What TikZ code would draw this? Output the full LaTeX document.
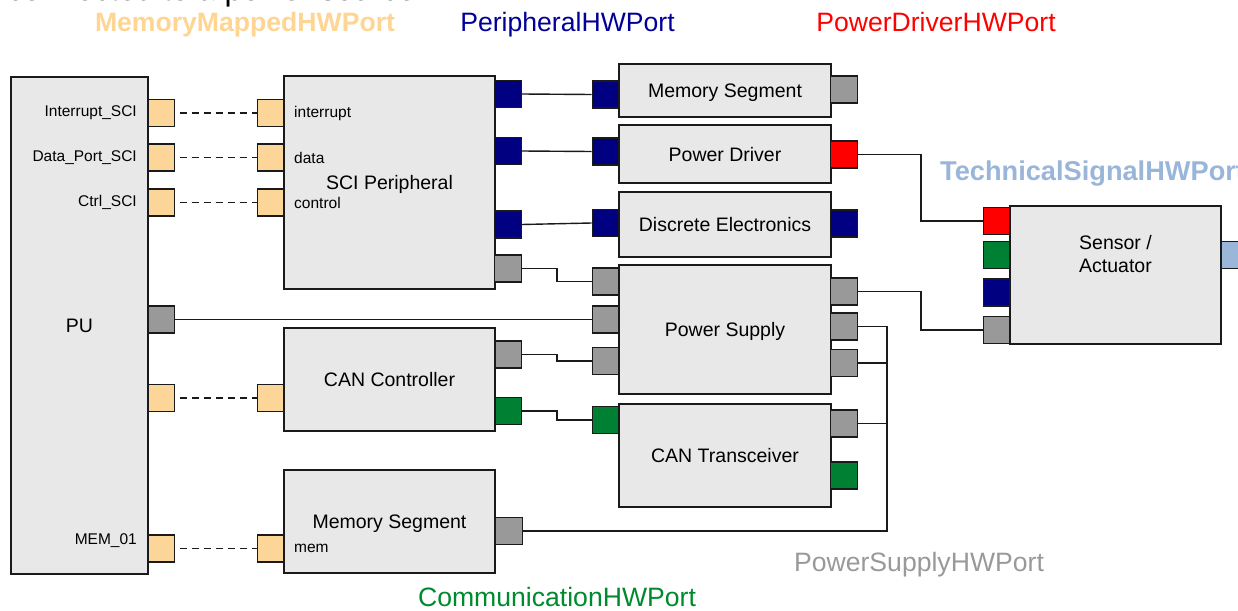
\documentclass[tikz,border=0pt]{standalone}
\usepackage{fontspec}
\setmainfont{Liberation Sans}
\definecolor{boxfill}{HTML}{E8E8E8}
\definecolor{mmport}{HTML}{FCD598}
\definecolor{navyport}{HTML}{000080}
\definecolor{grayport}{HTML}{999999}
\definecolor{redport}{HTML}{FF0000}
\definecolor{greenport}{HTML}{008033}
\definecolor{blueport}{HTML}{9AB6D9}
\definecolor{mmtext}{HTML}{FED592}
\definecolor{pertext}{HTML}{000099}
\definecolor{comtext}{HTML}{008A2E}
\definecolor{pstext}{HTML}{999999}
\definecolor{tstext}{HTML}{99B5D9}
\definecolor{linec}{HTML}{1A1A1A}
\begin{document}
\begin{tikzpicture}[x=1pt,y=-1pt,
  box/.style={draw=linec, line width=1.5pt, fill=boxfill, inner sep=0pt, align=center, text height=14pt, text depth=0pt, font=\fontsize{19.5}{22.5}\selectfont},
  port/.style={draw=linec, line width=1.4pt, inner sep=0pt, minimum width=26.5pt, minimum height=27pt},
  wire/.style={draw=linec, line width=1.4pt},
  dwire/.style={wire, dash pattern=on 7pt off 5pt, dash phase=7pt},
  small/.style={font=\fontsize{15.5}{18}\selectfont, inner sep=0pt},
  legend/.style={font=\fontsize{26.6}{30}\selectfont, anchor=base, inner sep=0pt},
]
\useasboundingbox (0,0) rectangle (1238,610);

% partially visible title line
\node[anchor=base west, inner sep=0pt, font=\fontsize{31.8}{36}\selectfont] (title) at (7,0.5) {connected to a power source};

% legend labels
\node[legend, text=mmtext, font=\fontsize{26.6}{30}\selectfont\bfseries] (lmm) at (245,32) {MemoryMappedHWPort};
\node[legend, text=pertext] (lper) at (567.5,32) {PeripheralHWPort};
\node[legend, text=redport] (lpd) at (936,32) {PowerDriverHWPort};
\node[legend, text=tstext, anchor=base west, font=\fontsize{27.2}{30}\selectfont\bfseries] (lts) at (940,180) {TechnicalSignalHWPort};
\node[legend, text=comtext] (lcom) at (557,606) {CommunicationHWPort};
\node[legend, text=pstext] (lps) at (919,571) {PowerSupplyHWPort};

% boxes
\node[box, minimum width=137pt, minimum height=497pt] (pu) at (79.5,325.5) {PU};
\node[box, minimum width=211pt, minimum height=213pt] (sci) at (389.5,182.5) {SCI Peripheral};
\node[box, minimum width=211pt, minimum height=103pt] (cc) at (389.5,379.5) {CAN Controller};
\node[box, minimum width=211pt, minimum height=103pt] (ms2) at (389.5,521.5) {Memory Segment};
\node[box, minimum width=212pt, minimum height=53pt] (ms1) at (725,90.5) {Memory Segment};
\node[box, minimum width=212pt, minimum height=58pt] (pd) at (725,154) {Power Driver};
\node[box, minimum width=212pt, minimum height=65pt] (de) at (725,224.5) {Discrete Electronics};
\node[box, minimum width=212pt, minimum height=129pt] (ps) at (725,329.5) {Power Supply};
\node[box, minimum width=212pt, minimum height=103pt] (ct) at (725,455.5) {CAN Transceiver};
\node[box, minimum width=211pt, minimum height=138pt] (sa) at (1115.5,275) {};
\node[align=center, inner sep=0pt, font=\fontsize{19.5}{22.5}\selectfont] (satext) at (1115.5,254) {Sensor /\\Actuator};

% PU ports and labels
\node[port, fill=mmport] (puI) at (161.5,113) {};
\node[port, fill=mmport] (puD) at (161.5,157.5) {};
\node[port, fill=mmport] (puC) at (161.5,202.5) {};
\node[port, fill=grayport] (puG) at (161.5,319.5) {};
\node[port, fill=mmport] (puCC) at (161.5,398) {};
\node[port, fill=mmport] (puM) at (161.5,548.5) {};
\node[small, anchor=east] (tI) at (137,113) {Interrupt\_SCI};
\node[small, anchor=east] (tD) at (137,157.5) {Data\_Port\_SCI};
\node[small, anchor=east] (tC) at (137,202.5) {Ctrl\_SCI};
\node[small, anchor=east] (tM) at (137,541) {MEM\_01};

% SCI ports and labels
\node[port, fill=mmport] (sI) at (270.5,113) {};
\node[port, fill=mmport] (sD) at (270.5,157.5) {};
\node[port, fill=mmport] (sC) at (270.5,202.5) {};
\node[small, anchor=west] (tsI) at (294,113) {interrupt};
\node[small, anchor=west] (tsD) at (294,157.5) {data};
\node[small, anchor=west] (tsC) at (294,203) {control};
\node[port, fill=navyport] (sN1) at (508,94) {};
\node[port, fill=navyport] (sN2) at (508,151) {};
\node[port, fill=navyport] (sN3) at (508,224.5) {};
\node[port, fill=grayport] (sG) at (508,268.5) {};

% CAN controller ports
\node[port, fill=mmport] (ccL) at (270.5,398) {};
\node[port, fill=grayport] (ccG) at (508.5,354.5) {};
\node[port, fill=greenport] (ccN) at (508.5,411) {};

% Memory segment (bottom) ports
\node[port, fill=mmport] (ms2L) at (270.5,548.5) {};
\node[small, anchor=west] (tmem) at (294,548) {mem};
\node[port, fill=grayport] (ms2R) at (509,531) {};

% right column ports
\node[port, fill=navyport] (ms1L) at (605.5,94.5) {};
\node[port, fill=grayport] (ms1R) at (844,89.5) {};
\node[port, fill=navyport] (pdL) at (605.5,151.5) {};
\node[port, fill=redport] (pdR) at (844,154.5) {};
\node[port, fill=navyport] (deL) at (605.5,223) {};
\node[port, fill=navyport] (deR) at (844,223.5) {};
\node[port, fill=grayport] (psL1) at (605.5,281.5) {};
\node[port, fill=grayport] (psL2) at (605.5,319.5) {};
\node[port, fill=grayport] (psL3) at (605.5,361) {};
\node[port, fill=grayport] (psR1) at (844,291.5) {};
\node[port, fill=grayport] (psR2) at (844,326.5) {};
\node[port, fill=grayport] (psR3) at (844,363) {};
\node[port, fill=greenport] (ctL) at (605.5,420) {};
\node[port, fill=grayport] (ctR1) at (844,423.5) {};
\node[port, fill=greenport] (ctR2) at (844,475.5) {};

% sensor / actuator ports
\node[port, fill=redport] (saR) at (996.5,221) {};
\node[port, fill=greenport] (saN) at (996.5,255) {};
\node[port, fill=navyport] (saB) at (996.5,292.5) {};
\node[port, fill=grayport] (saG) at (996.5,330) {};
\node[port, fill=blueport] (saT) at (1234.5,255) {};

% dashed memory-mapped links
\draw[dwire] (puI.east) -- (sI.west);
\draw[dwire] (puD.east) -- (sD.west);
\draw[dwire] (puC.east) -- (sC.west);
\draw[dwire] (puCC.east) -- (ccL.west);
\draw[dwire] (puM.east) -- (ms2L.west);

% peripheral links
\draw[wire] (sN1.east) -- (ms1L.west);
\draw[wire] (sN2.east) -- (pdL.west);
\draw[wire] (sN3.east) -- (deL.west);

% power / communication links
\draw[wire] (puG.east) -- (psL2.west);
\draw[wire] (sG.east) -| (557,275) |- (psL1.west);
\draw[wire] (ccG.east) -| (557,358) |- (psL3.west);
\draw[wire] (ccN.east) -| (557,415) |- (ctL.west);
\draw[wire] (pdR.east) -| (921,190) |- (saR.west);
\draw[wire] (psR1.east) -| (921,310) |- (saG.west);

\coordinate (bus) at (887,531);
\draw[wire] (psR2.east) -| (bus) -- (ms2R.east);
\draw[wire] (psR3.east) -- (psR3.east -| bus);
\draw[wire] (ctR1.east) -- (ctR1.east -| bus);
\end{tikzpicture}
\end{document}
